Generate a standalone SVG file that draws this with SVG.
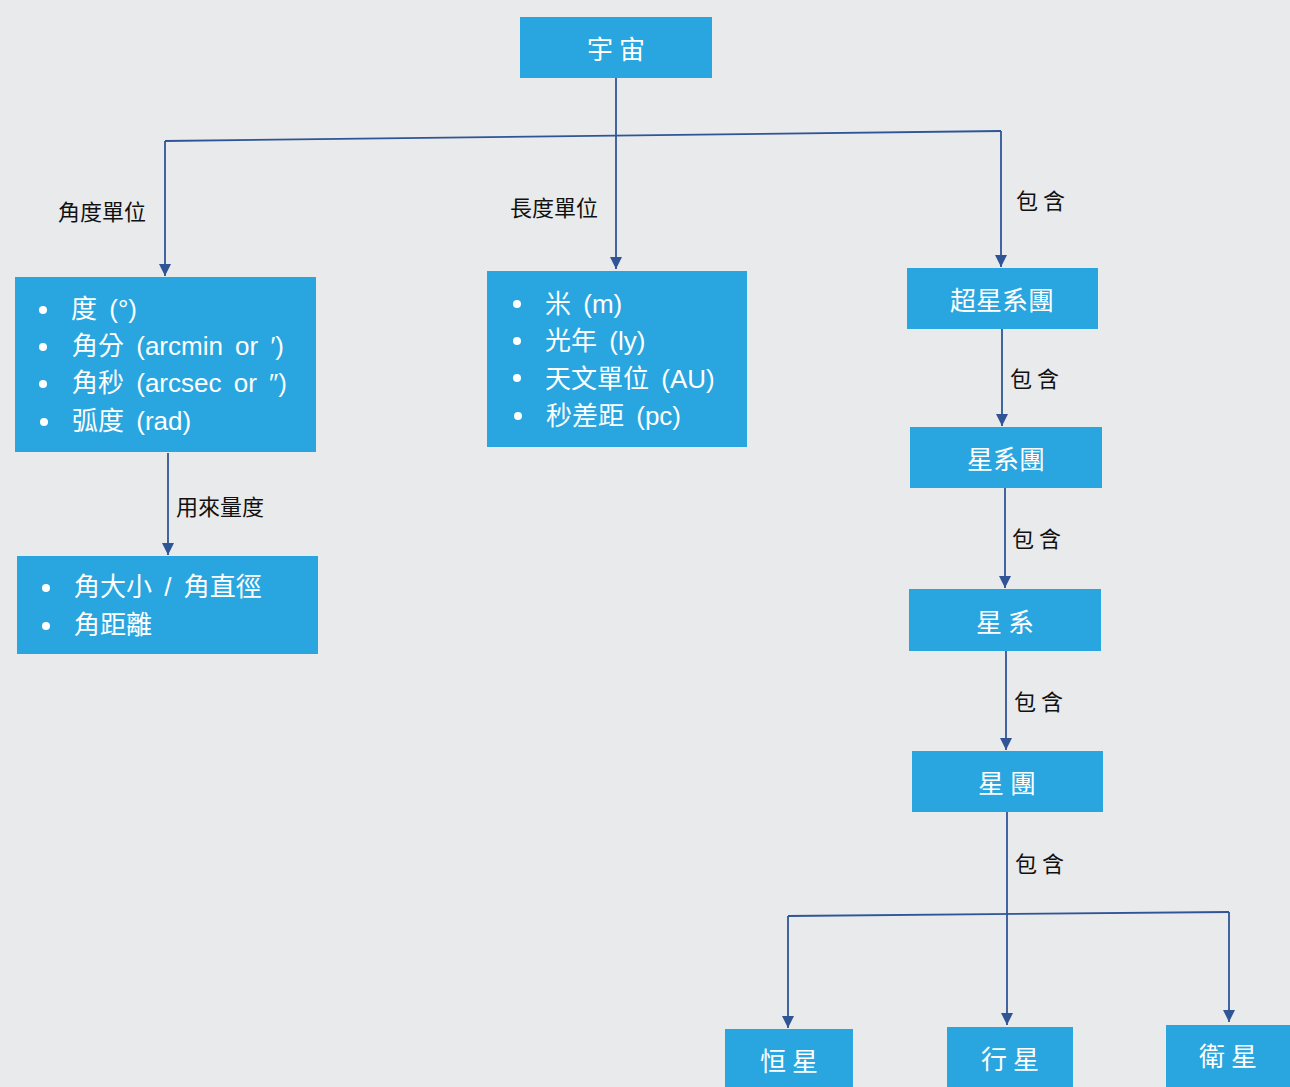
<svg xmlns="http://www.w3.org/2000/svg" width="1290" height="1087" viewBox="0 0 1290 1087">
<defs>
<marker id="arr" viewBox="0 0 12 16" refX="12" refY="8" markerWidth="12" markerHeight="16" markerUnits="userSpaceOnUse" orient="auto">
<path d="M0,2 L12,8 L0,14 Z" fill="#2f5597"/>
</marker>
<style>
.box{fill:#29a6df}
.bt{fill:#ffffff;font-family:"Liberation Sans","Noto Sans CJK TC",sans-serif;font-size:26px;word-spacing:5px}
.ct{fill:#ffffff;font-family:"Noto Sans CJK TC",sans-serif;font-size:26px;text-anchor:middle;dominant-baseline:central}
.lbl{fill:#111111;font-family:"Noto Sans CJK TC",sans-serif;font-size:22px;dominant-baseline:central}
.ln{fill:none;stroke:#2f5597;stroke-width:1.8}
.dot{fill:#ffffff}
</style>
</defs>
<rect width="1290" height="1087" fill="#e9eaeb"/>
<g id="connectors">
<path class="ln" d="M616,78 V269" marker-end="url(#arr)"/>
<path class="ln" d="M165,141 L1001,131"/>
<path class="ln" d="M165,141 V276" marker-end="url(#arr)"/>
<path class="ln" d="M1001,131 V267" marker-end="url(#arr)"/>
<path class="ln" d="M168,453 V555" marker-end="url(#arr)"/>
<path class="ln" d="M1002,329 V426" marker-end="url(#arr)"/>
<path class="ln" d="M1005,488 V588" marker-end="url(#arr)"/>
<path class="ln" d="M1006,651 V750" marker-end="url(#arr)"/>
<path class="ln" d="M1007,812 V1025" marker-end="url(#arr)"/>
<path class="ln" d="M788,916 L1229,912"/>
<path class="ln" d="M788,916 V1028" marker-end="url(#arr)"/>
<path class="ln" d="M1229,912 V1022" marker-end="url(#arr)"/>
<text class="lbl" x="58" y="210">角度單位</text>
<text class="lbl" x="510" y="206">長度單位</text>
<text class="lbl" x="1016" y="199">包 含</text>
<text class="lbl" x="176" y="505">用來量度</text>
<text class="lbl" x="1010" y="377">包 含</text>
<text class="lbl" x="1012" y="537">包 含</text>
<text class="lbl" x="1014" y="700">包 含</text>
<text class="lbl" x="1015" y="862">包 含</text>
</g>
<g id="universe">
<rect class="box" x="520" y="17" width="192" height="61"/>
<text class="ct" x="616" y="47">宇 宙</text>
</g>
<g id="angle-units">
<rect class="box" x="15" y="277" width="301" height="175"/>
<circle class="dot" cx="43" cy="310" r="4"/>
<circle class="dot" cx="43" cy="347" r="4"/>
<circle class="dot" cx="43" cy="384" r="4"/>
<circle class="dot" cx="44" cy="422" r="4"/>
<text class="bt" x="71" y="318">度 (°)</text>
<text class="bt" x="72" y="355">角分 (arcmin or ′)</text>
<text class="bt" x="72" y="392">角秒 (arcsec or ″)</text>
<text class="bt" x="72" y="430">弧度 (rad)</text>
</g>
<g id="length-units">
<rect class="box" x="487" y="271" width="260" height="176"/>
<circle class="dot" cx="517" cy="304" r="4"/>
<circle class="dot" cx="517" cy="341" r="4"/>
<circle class="dot" cx="517" cy="378" r="4"/>
<circle class="dot" cx="518" cy="416" r="4"/>
<text class="bt" x="545" y="313">米 (m)</text>
<text class="bt" x="545" y="350">光年 (ly)</text>
<text class="bt" x="545" y="388">天文單位 (AU)</text>
<text class="bt" x="546" y="425">秒差距 (pc)</text>
</g>
<g id="angle-uses">
<rect class="box" x="17" y="556" width="301" height="98"/>
<circle class="dot" cx="46" cy="588" r="4"/>
<circle class="dot" cx="46" cy="626" r="4"/>
<text class="bt" x="74" y="596">角大小 / 角直徑</text>
<text class="bt" x="74" y="634">角距離</text>
</g>
<g id="supercluster">
<rect class="box" x="907" y="268" width="191" height="61"/>
<text class="ct" x="1002" y="298">超星系團</text>
</g>
<g id="galaxy-cluster">
<rect class="box" x="910" y="427" width="192" height="61"/>
<text class="ct" x="1006" y="457">星系團</text>
</g>
<g id="galaxy">
<rect class="box" x="909" y="589" width="192" height="62"/>
<text class="ct" x="1005" y="620">星 系</text>
</g>
<g id="star-cluster">
<rect class="box" x="912" y="751" width="191" height="61"/>
<text class="ct" x="1007" y="781">星 團</text>
</g>
<g id="star">
<rect class="box" x="725" y="1029" width="128" height="58"/>
<text class="ct" x="789" y="1059">恒 星</text>
</g>
<g id="planet">
<rect class="box" x="947" y="1027" width="126" height="60"/>
<text class="ct" x="1010" y="1057">行 星</text>
</g>
<g id="satellite">
<rect class="box" x="1166" y="1025" width="124" height="62"/>
<text class="ct" x="1228" y="1054">衛 星</text>
</g>
</svg>
